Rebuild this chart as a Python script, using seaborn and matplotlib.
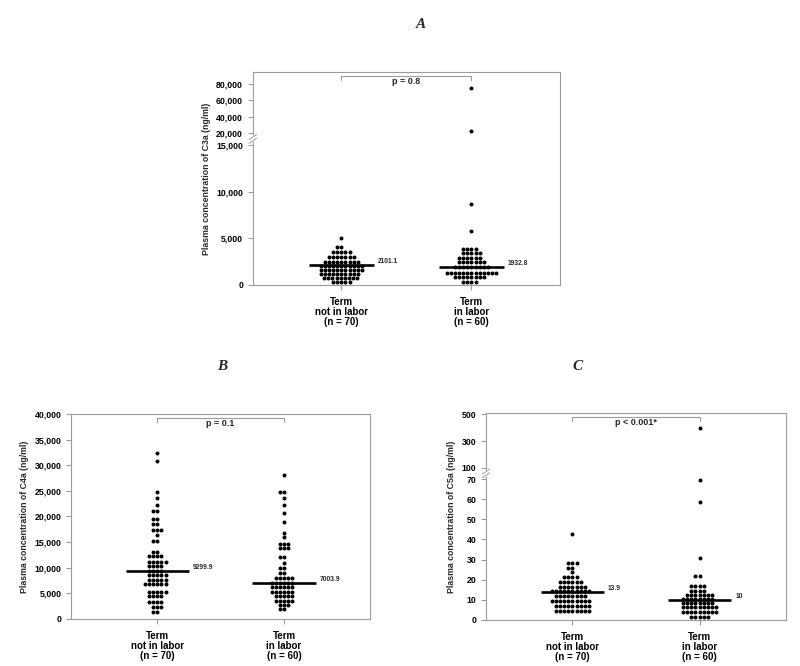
import numpy as np
import pandas as pd
import matplotlib.pyplot as plt
import seaborn as sns
from matplotlib.ticker import FuncFormatter

sns.set_style("ticks")
plt.rcParams['font.family'] = ['Liberation Sans', 'DejaVu Sans']

groups = ["Term\nnot in labor\n(n = 70)", "Term\nin labor\n(n = 60)"]

# C3a (ng/ml): row values of the dot plot and number of dots in each row
c3a_nil_vals = [5000, 4100, 3570, 3040, 2500, 2040, 1610, 1140, 710, 290]
c3a_nil_counts = [1, 2, 5, 7, 9, 11, 11, 10, 9, 5]
c3a_il_vals = [75000, 22000, 8700, 5800, 3850, 3400, 2930, 2430, 1960, 1320, 890, 360]
c3a_il_counts = [1, 1, 1, 1, 4, 5, 6, 7, 9, 13, 8, 4]
c3a_medians = [2101.1, 1932.8]

# C4a (ng/ml)
c4a_nil_vals = [32450, 30900, 24850, 23550, 22240, 21070, 19510, 18600, 17370, 16390, 15280,
                13100, 12200, 11200, 10300, 9400, 8500, 7600, 6800, 5300, 4400, 3400, 2400, 1400]
c4a_nil_counts = [1, 1, 1, 1, 1, 2, 2, 2, 3, 1, 2,
                  2, 4, 5, 4, 4, 5, 5, 6, 5, 4, 4, 3, 2]
c4a_il_vals = [28100, 24750, 23700, 22200, 20600, 18850, 16750, 15900,
               14700, 13800, 12000, 11000, 9900, 8900,
               7900, 7100, 6300, 5300, 4400, 3600, 2700, 1900]
c4a_il_counts = [1, 2, 1, 1, 1, 1, 1, 1,
                 3, 3, 2, 1, 2, 2,
                 5, 6, 6, 6, 5, 5, 3, 2]
c4a_medians = [9299.9, 7003.9]

# C5a (ng/ml)
c5a_nil_vals = [42.8, 28.5, 26.0, 23.8, 21.5, 19.0, 16.5, 14.2, 11.9, 9.3, 6.8, 4.3]
c5a_nil_counts = [1, 3, 2, 1, 4, 6, 7, 10, 8, 10, 9, 9]
c5a_il_vals = [400, 69.5, 58.7, 30.6, 21.8, 16.9, 14.6, 12.6, 10.6, 8.6, 6.3, 4.0, 1.6]
c5a_il_counts = [1, 1, 1, 1, 2, 4, 4, 7, 8, 8, 9, 9, 5]
c5a_medians = [13.9, 10]

median_labels = {"A": ["2101.1", "1932.8"], "B": ["9299.9", "7003.9"], "C": ["13.9", "10"]}
p_texts = {"A": "p = 0.8", "B": "p = 0.1", "C": "p < 0.001*"}

GRAY = "#9a9a9a"


def make_df(v0, c0, v1, c1):
    vals = np.concatenate([np.repeat(v0, c0), np.repeat(v1, c1)]).astype(float)
    grp = [groups[0]] * sum(c0) + [groups[1]] * sum(c1)
    return pd.DataFrame({"group": grp, "value": vals})


def broken_scale(lo_top, hi_bot, lo_px, gap_px, hi_px_per_unit):
    s1 = lo_px / lo_top
    big = 1e7
    xs = np.array([-big, 0.0, lo_top, hi_bot, big])
    ys = np.array([-big * s1, 0.0, lo_px, lo_px + gap_px,
                   lo_px + gap_px + (big - hi_bot) * hi_px_per_unit])
    return (lambda v: np.interp(v, xs, ys)), (lambda v: np.interp(v, ys, xs))


def draw_panel(ax, df, key, medians, ylabel, ytop, yticks, scale=None, brk=None):
    if scale is not None:
        ax.set_yscale("function", functions=scale)
    sns.swarmplot(data=df, x="group", y="value", order=groups, color="black",
                  size=2.85, linewidth=0, ax=ax)
    for i, m in enumerate(medians):
        ax.hlines(m, i - 0.25, i + 0.25, color="black", lw=1.9, zorder=5)
        ax.text(i + 0.28, m, median_labels[key][i], fontsize=4.8, fontweight="bold",
                va="bottom", ha="left")
    ax.set_xlim(-0.68, 1.68)
    ax.set_ylim(0, ytop)
    ax.set_yticks(yticks)
    ax.yaxis.set_major_formatter(FuncFormatter(lambda v, p: f"{v:,.0f}"))
    ax.set_xlabel("")
    ax.set_ylabel(ylabel, fontsize=6.3, fontweight="bold")
    for s in ax.spines.values():
        s.set_visible(True)
        s.set_color(GRAY)
        s.set_linewidth(0.8)
    ax.tick_params(axis="both", colors=GRAY, length=3.5, width=0.8, labelcolor="black")
    ax.tick_params(axis="y", labelsize=6.3)
    ax.tick_params(axis="x", labelsize=7, pad=5)
    for t in ax.get_yticklabels() + ax.get_xticklabels():
        t.set_fontweight("bold")
    for t in ax.get_xticklabels():
        t.set_linespacing(1.0)
    # p-value bracket
    tr = ax.get_xaxis_transform()
    ax.plot([0, 0, 1, 1], [0.962, 0.982, 0.982, 0.962], color=GRAY, lw=0.8,
            transform=tr, clip_on=False)
    ax.text(0.5, 0.975, p_texts[key], transform=tr, ha="center", va="top",
            fontsize=6.5, fontweight="bold")
    if brk is not None:
        fwd = scale[0]
        yc = (fwd(brk[0]) + fwd(brk[1])) / 2 / fwd(ytop)
        d = 0.012
        ax.plot([0, 0], [yc - d, yc + d], color="white", lw=1.5,
                transform=ax.transAxes, clip_on=False, zorder=6)
        for off in (-0.009, 0.009):
            ax.plot([-0.012, 0.012], [yc + off - 0.012, yc + off + 0.012], color=GRAY,
                    lw=0.7, transform=ax.transAxes, clip_on=False, zorder=7)


fig = plt.figure(figsize=(8, 6.66), dpi=100)
axA = fig.add_axes([0.316, 0.5721, 0.384, 0.3198])
axB = fig.add_axes([0.0888, 0.0706, 0.374, 0.3078])
axC = fig.add_axes([0.6075, 0.0691, 0.375, 0.3108])

draw_panel(axA, make_df(c3a_nil_vals, c3a_nil_counts, c3a_il_vals, c3a_il_counts), "A",
           c3a_medians, "Plasma concentration of C3a (ng/ml)", 94700,
           [0, 5000, 10000, 15000, 20000, 40000, 60000, 80000],
           scale=broken_scale(15000, 20000, 140, 12, 16.3 / 20000), brk=(15000, 20000))
draw_panel(axB, make_df(c4a_nil_vals, c4a_nil_counts, c4a_il_vals, c4a_il_counts), "B",
           c4a_medians, "Plasma concentration of C4a (ng/ml)", 40000,
           list(range(0, 40001, 5000)))
draw_panel(axC, make_df(c5a_nil_vals, c5a_nil_counts, c5a_il_vals, c5a_il_counts), "C",
           c5a_medians, "Plasma concentration of C5a (ng/ml)", 510,
           [0, 10, 20, 30, 40, 50, 60, 70, 100, 300, 500],
           scale=broken_scale(70, 100, 141, 11.3, 26.7 / 200), brk=(70, 100))

for letter, x, y in [("A", 421, 24), ("B", 222, 366), ("C", 578, 366)]:
    fig.text(x / 800, 1 - y / 666, letter, family="Liberation Serif", style="italic",
             fontweight="bold", fontsize=11, ha="center", va="center")

fig.savefig("out.png", dpi=100, facecolor="white")
